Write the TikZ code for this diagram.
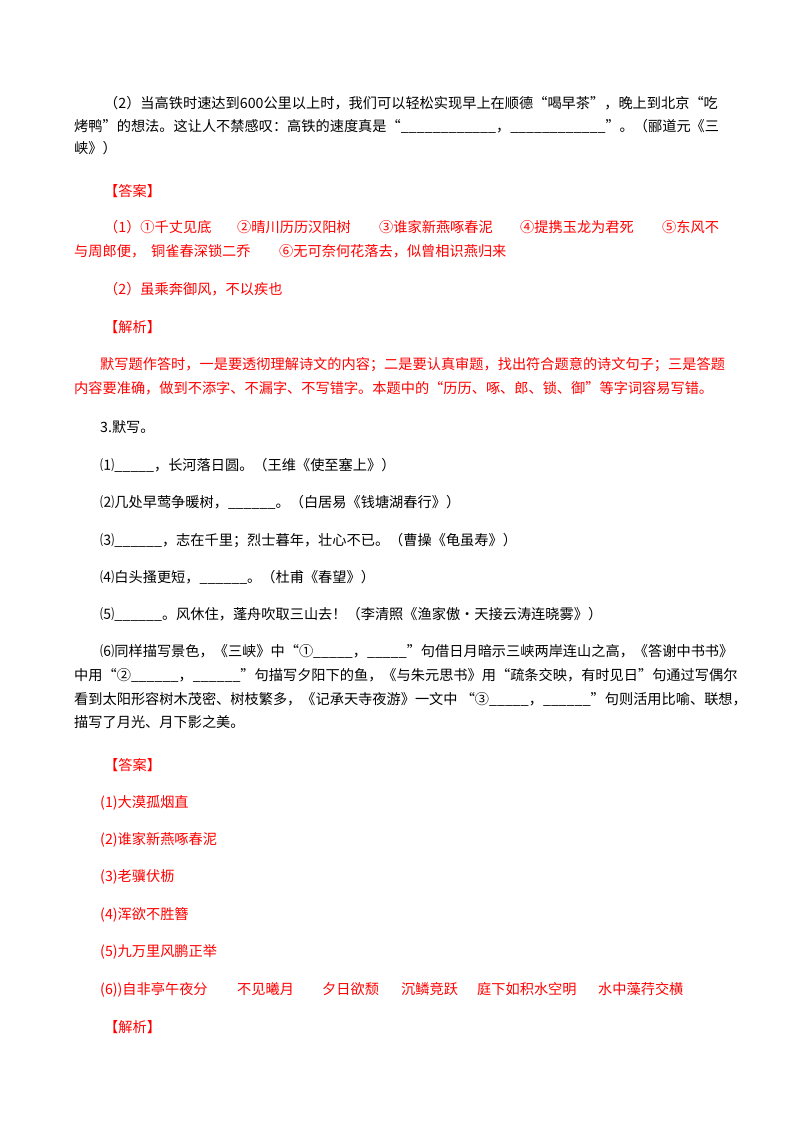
\documentclass[tikz,border=0pt]{standalone}
\usepackage{fontspec}
\newfontfamily\cjk{Noto Sans CJK SC}
\tikzset{
  txt/.style={anchor=base west,inner sep=0pt,font=\cjk\fontsize{14.2}{16}\selectfont},
  ans/.style={txt,text=red},
}
\begin{document}
\begin{tikzpicture}[x=1pt,y=-1pt]
      \useasboundingbox[fill=white] (0,0) rectangle (800,1132);

      \node[txt] (L1) at (104,108) {（2）当高铁时速达到600公里以上时，我们可以轻松实现早上在顺德“喝早茶”，晚上到北京“吃};%
      \node[txt] (L2) at (74,131) {烤鸭”的想法。这让人不禁感叹：高铁的速度真是“\_\_\_\_\_\_\_\_\_\_\_\_，\_\_\_\_\_\_\_\_\_\_\_\_”。（郦道元《三};%
      \node[txt] (L3) at (74,153) {峡》）};%

      \node[ans] (DA1) at (104,196) {【答案】};%
      \node[ans] (A1) at (104,232) {（1）①千丈见底};%
      \node[ans] (A1b) at (237,232) {②晴川历历汉阳树};%
      \node[ans] (A1c) at (379,232) {③谁家新燕啄春泥};%
      \node[ans] (A1d) at (520,232) {④提携玉龙为君死};%
      \node[ans] (A1e) at (662,232) {⑤东风不};%
      \node[ans] (A2) at (74,256) {与周郎便，};%
      \node[ans] (A2b) at (151,256) {铜雀春深锁二乔};%
      \node[ans] (A2c) at (279,256) {⑥无可奈何花落去，似曾相识燕归来};%
      \node[ans] (A3) at (104,294) {（2）虽乘奔御风，不以疾也};%

      \node[ans] (JX1) at (104,332) {【解析】};%
      \node[ans] (J1) at (100,369) {默写题作答时，一是要透彻理解诗文的内容；二是要认真审题，找出符合题意的诗文句子；三是答题};%
      \node[ans] (J2) at (74,393) {内容要准确，做到不添字、不漏字、不写错字。本题中的“历历、啄、郎、锁、御”等字词容易写错。};%

      \node[txt] (Q3) at (100,432) {3.默写。};%
      \node[txt] (Q1) at (100,470) {⑴\_\_\_\_\_，长河落日圆。（王维《使至塞上》）};%
      \node[txt] (Q2) at (100,507) {⑵几处早莺争暖树，\_\_\_\_\_\_。（白居易《钱塘湖春行》）};%
      \node[txt] (Qc) at (100,545) {⑶\_\_\_\_\_\_，志在千里；烈士暮年，壮心不已。（曹操《龟虽寿》）};%
      \node[txt] (Q4) at (100,582) {⑷白头搔更短，\_\_\_\_\_\_。（杜甫《春望》）};%
      \node[txt] (Q5) at (100,619) {⑸\_\_\_\_\_\_。风休住，蓬舟吹取三山去！（李清照《渔家傲·天接云涛连晓雾》）};%
      \node[txt] (Q6a) at (100,656) {⑹同样描写景色，《三峡》中“①\_\_\_\_\_，\_\_\_\_\_”句借日月暗示三峡两岸连山之高，《答谢中书书》};%
      \node[txt] (Q6b) at (74,680) {中用“②\_\_\_\_\_\_，\_\_\_\_\_\_”句描写夕阳下的鱼，《与朱元思书》用“疏条交映，有时见日”句通过写偶尔};%
      \node[txt] (Q6c) at (74,704) {看到太阳形容树木茂密、树枝繁多，《记承天寺夜游》一文中 “③\_\_\_\_\_，\_\_\_\_\_\_”句则活用比喻、联想，};%
      \node[txt] (Q6d) at (74,727) {描写了月光、月下影之美。};%

      \node[ans] (DA2) at (104,770) {【答案】};%
      \node[ans] (R1) at (100,807) {(1)大漠孤烟直};%
      \node[ans] (R2) at (100,844) {(2)谁家新燕啄春泥};%
      \node[ans] (R3) at (100,881) {(3)老骥伏枥};%
      \node[ans] (R4) at (100,919) {(4)浑欲不胜簪};%
      \node[ans] (R5) at (100,956) {(5)九万里风鹏正举};%
      \node[ans] (R6) at (100,994) {(6))自非亭午夜分};%
      \node[ans] (R6b) at (237,994) {不见曦月};%
      \node[ans] (R6c) at (322,994) {夕日欲颓};%
      \node[ans] (R6d) at (401,994) {沉鳞竞跃};%
      \node[ans] (R6e) at (477,994) {庭下如积水空明};%
      \node[ans] (R6f) at (598,994) {水中藻荇交横};%
      \node[ans] (JX2) at (104,1032) {【解析】};%
\end{tikzpicture}
\end{document}
